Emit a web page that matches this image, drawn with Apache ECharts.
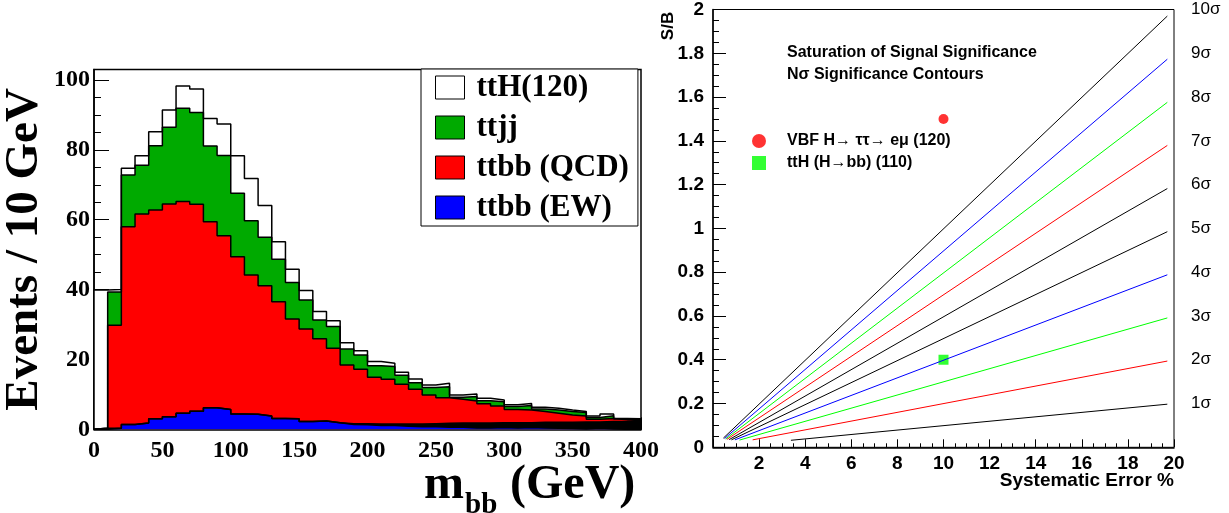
<!DOCTYPE html>
<html>
<head>
<meta charset="utf-8">
<title>ttH m_bb and significance contours</title>
<script src="https://cdn.jsdelivr.net/npm/echarts@6/dist/echarts.min.js"></script>
<style>
  html, body { margin: 0; padding: 0; background: #fff; }
  #main { width: 1229px; height: 513px; }
</style>
</head>
<body>
<div id="main"></div>
<script>
// left panel: m_bb, 10 GeV bins from 0 to 400 GeV (events per bin, per component)
var binWidth = 10
var tthVals  = [39.6, 0.7, 1.9, 2.7, 4.0, 4.9, 6.4, 6.7, 7.9, 9.0, 10.7, 12.1, 9.1, 5.0, 3.8, 2.7, 2.4, 1.7, 1.8, 1.2,
                1.2, 0.9, 0.8, 1.1, 0.7, 1.0, 0.6, 0.7, 0.7, 0.5, 0.5, 0.6, 0.5, 0.5, 0.4, 0.3, 0.4, 0.5, 0.1, 0.0]
var ttjjVals = [0, 9.5, 14.8, 14.0, 18.4, 22.0, 26.7, 26.3, 21.7, 23.0, 18.2, 15.5, 13.9, 12.2, 10.4, 8.3, 5.4, 6.2, 4.6, 4.1,
                3.3, 3.7, 2.6, 1.8, 2.2, 3.2, 0.6, 1.3, 0.9, 1.2, 0.8, 1.3, 0.7, 0.9, 1.0, 1.0, 0.5, 0.8, 0.3, 0.1]
var qcdVals  = [0, 29.5, 56.6, 59.8, 59.8, 60.9, 60.6, 59.2, 53.2, 49.7, 45.0, 39.9, 37.3, 33.4, 28.6, 26.5, 23.5, 21.3, 16.8, 15.6,
                13.4, 12.8, 11.4, 10.0, 8.2, 7.3, 6.8, 6.3, 5.5, 4.8, 3.8, 3.6, 3.1, 2.6, 2.1, 1.7, 0.8, 0.9, 0.4, 0.3]
var darkVals = [0.3, 0, 0, 0, 0, 0, 0, 0, 0, 0, 0, 0, 0, 0, 0, 0, 0, 0, 0.2, 0.3,
                0.4, 0.4, 0.6, 0.8, 0.9, 1.1, 1.2, 1.4, 1.4, 1.4, 1.5, 1.4, 1.6, 1.7, 1.8, 2.0, 1.8, 2.1, 2.3, 2.6]
var ewVals   = [0, 0.3, 1.4, 1.8, 3.0, 3.6, 4.6, 5.2, 6.2, 5.7, 4.4, 4.3, 3.8, 3.1, 3.0, 2.2, 2.4, 1.9, 1.4, 1.3,
                1.1, 1.1, 0.9, 0.7, 0.7, 0.6, 0.6, 0.4, 0.4, 0.5, 0.4, 0.5, 0.4, 0.3, 0.2, 0.1, 0.3, 0.1, 0, 0]
var histNames  = ['ttH(120)', 'ttjj', 'ttbb (QCD)', 'ttbb (EW)']
var histColors = ['#ffffff', '#00aa00', '#ff0000', '#0000ff']

// right panel: N sigma contours, S/B against systematic error (%)
var sigmaLabels   = ['1σ', '2σ', '3σ', '4σ', '5σ', '6σ', '7σ', '8σ', '9σ', '10σ']
var contourColors = ['#000000', '#ff0000', '#00ff00', '#0000ff', '#000000', '#000000', '#ff0000', '#00ff00', '#0000ff', '#000000']
var contourStartX = [3.38, 1.72, 1.15, 0.95, 0.8, 0.7, 0.6, 0.55, 0.5, 0.45]
var contourStartY = [0.032, 0.034, 0.033, 0.034, 0.034, 0.035, 0.036, 0.038, 0.040, 0.042]
var contourEndX = 19.71
var contourEndY = [0.197, 0.394, 0.591, 0.788, 0.985, 1.182, 1.379, 1.576, 1.773, 1.970]
var vbfName = 'VBF H→ ττ→ eμ (120)'
var vbfPoint = [10, 1.5]
var tthName = 'ttH (H→bb) (110)'
var tthPoint = [10, 0.4]

var serif = '"Liberation Serif", "Times New Roman", serif'
var sans = '"Liberation Sans", Arial, sans-serif'

// histogram outline as a step line: x at bin low edges, closed at both ends
function stepData (vals) {
    var pts = [[0, 0]]
    vals.forEach(function (v, i) {
        pts.push([i * binWidth, v])
    })
    var end = vals.length * binWidth
    pts.push([end, vals[vals.length - 1]])
    pts.push([end, 0])
    return pts
}

// cumulative layers, drawn from the biggest down (like a THStack)
var layers = [ewVals, darkVals, qcdVals, ttjjVals, tthVals]
var layerColors = ['#0000ff', '#000000', '#ff0000', '#00aa00', '#ffffff']
var cum = []
layers.forEach(function (vals, k) {
    cum.push(vals.map(function (v, i) {
        return k === 0 ? v : cum[k - 1][i] + v
    }))
})

var series = []
for (var k = layers.length - 1; k >= 0; k--) {
    series.push({
        type: 'line',
        name: 'layer' + k,
        xAxisIndex: 0,
        yAxisIndex: 0,
        step: 'end',
        symbol: 'none',
        data: stepData(cum[k]),
        lineStyle: { color: '#000', width: 1.5 },
        areaStyle: { color: layerColors[k], opacity: 1 },
        silent: true
    })
}
// legend entries only
histNames.forEach(function (n, i) {
    series.push({
        type: 'bar',
        name: n,
        xAxisIndex: 0,
        yAxisIndex: 0,
        data: [],
        itemStyle: { color: histColors[i], borderColor: '#000', borderWidth: 1 }
    })
})
sigmaLabels.forEach(function (s, i) {
    series.push({
        type: 'line',
        name: s,
        xAxisIndex: 1,
        yAxisIndex: 2,
        symbol: 'none',
        data: [[contourStartX[i], contourStartY[i]], [contourEndX, contourEndY[i]]],
        lineStyle: { color: contourColors[i], width: 1 },
        silent: true
    })
})
series.push({
    type: 'scatter',
    name: vbfName,
    xAxisIndex: 1,
    yAxisIndex: 2,
    symbol: 'circle',
    symbolSize: 10,
    itemStyle: { color: '#ff0000' },
    data: [vbfPoint]
})
series.push({
    type: 'scatter',
    name: tthName,
    xAxisIndex: 1,
    yAxisIndex: 2,
    symbol: 'rect',
    symbolSize: 10,
    itemStyle: { color: '#00ff00' },
    data: [tthPoint]
})

function tickStyle (len) {
    return { show: true, inside: true, length: len, lineStyle: { color: '#000', width: 1 } }
}

var option = {
    animation: false,
    backgroundColor: '#fff',
    grid: [
        { left: 94, top: 69.5, width: 547, height: 359.8, show: true, borderColor: '#000', borderWidth: 1.5, backgroundColor: 'transparent' },
        { left: 713, top: 9.3, width: 461, height: 438, show: true, borderColor: '#000', borderWidth: 1, backgroundColor: 'transparent' }
    ],
    legend: [{
        data: histNames,
        orient: 'vertical',
        left: 421,
        top: 69,
        padding: [3, 9, 3, 14],
        itemGap: 9,
        itemWidth: 29,
        itemHeight: 23,
        icon: 'rect',
        selectedMode: false,
        backgroundColor: '#fff',
        borderColor: '#000',
        borderWidth: 1,
        itemStyle: { borderColor: '#000', borderWidth: 1 },
        textStyle: { fontFamily: serif, fontWeight: 'bold', fontSize: 31, color: '#000', padding: [0, 0, 0, 7] }
    }, {
        data: [vbfName, tthName],
        orient: 'vertical',
        left: 752,
        top: 133,
        padding: 0,
        itemGap: 6,
        itemWidth: 14,
        itemHeight: 14,
        selectedMode: false,
        itemStyle: { borderWidth: 0 },
        textStyle: { fontFamily: sans, fontWeight: 'bold', fontSize: 16, color: '#000', padding: [0, 0, 0, 16] }
    }],
    xAxis: [{
        gridIndex: 0,
        type: 'value',
        min: 0,
        max: 400,
        interval: 50,
        axisLine: { lineStyle: { color: '#000', width: 1.5 } },
        axisTick: tickStyle(12),
        minorTick: { show: true, splitNumber: 5, length: 6, lineStyle: { color: '#000', width: 1 } },
        splitLine: { show: false },
        axisLabel: { color: '#000', fontFamily: serif, fontWeight: 'bold', fontSize: 24, margin: 9 }
    }, {
        gridIndex: 1,
        type: 'value',
        min: 0,
        max: 20,
        interval: 2,
        axisLine: { lineStyle: { color: '#000', width: 1.5 } },
        axisTick: tickStyle(8),
        minorTick: { show: true, splitNumber: 4, length: 4, lineStyle: { color: '#000', width: 1 } },
        splitLine: { show: false },
        axisLabel: {
            color: '#000', fontFamily: sans, fontWeight: 'bold', fontSize: 19, margin: 7,
            formatter: function (v) { return v === 0 ? '' : v }
        }
    }],
    yAxis: [{
        gridIndex: 0,
        type: 'value',
        position: 'left',
        min: 0,
        max: 103,
        interval: 20,
        axisLine: { lineStyle: { color: '#000', width: 1.5 } },
        axisTick: tickStyle(15),
        splitLine: { show: false },
        axisLabel: {
            color: '#000', fontFamily: serif, fontWeight: 'bold', fontSize: 24, margin: 4,
            formatter: function (v) { return v % 20 === 0 ? v : '' }
        },
        name: 'Events / 10 GeV',
        nameLocation: 'middle',
        nameRotate: 90,
        nameGap: 46,
        nameTextStyle: { fontFamily: serif, fontWeight: 'bold', fontSize: 47, color: '#000' }
    }, {
        gridIndex: 0,
        type: 'value',
        position: 'left',
        min: 0,
        max: 103,
        interval: 5,
        axisLine: { show: false },
        axisTick: tickStyle(7),
        axisLabel: { show: false },
        splitLine: { show: false }
    }, {
        gridIndex: 1,
        type: 'value',
        position: 'left',
        min: 0,
        max: 2,
        interval: 0.2,
        axisLine: { lineStyle: { color: '#000', width: 1.5 } },
        axisTick: tickStyle(13),
        minorTick: { show: true, splitNumber: 4, length: 6, lineStyle: { color: '#000', width: 1 } },
        splitLine: { show: false },
        axisLabel: { color: '#000', fontFamily: sans, fontWeight: 'bold', fontSize: 19, margin: 9 }
    }, {
        gridIndex: 1,
        type: 'value',
        position: 'right',
        min: 0,
        max: 2,
        interval: 0.2,
        axisLine: { show: false },
        axisTick: { show: false },
        splitLine: { show: false },
        axisLabel: {
            color: '#000', fontFamily: sans, fontSize: 17, margin: 17,
            formatter: function (v) { return sigmaLabels[Math.round(v / 0.2) - 1] || '' }
        }
    }],
    graphic: [
        { type: 'text', x: 424, y: 486, style: { text: 'm', font: 'bold 48px ' + serif, fill: '#000', textAlign: 'left', textVerticalAlign: 'middle' } },
        { type: 'text', x: 465, y: 506, style: { text: 'bb', font: 'bold 29px ' + serif, fill: '#000', textAlign: 'left', textVerticalAlign: 'middle' } },
        { type: 'text', x: 510, y: 486, style: { text: '(GeV)', font: 'bold 48px ' + serif, fill: '#000', textAlign: 'left', textVerticalAlign: 'middle' } },
        { type: 'text', x: 668, y: 26, rotation: Math.PI / 2, style: { text: 'S/B', font: 'bold 17px ' + sans, fill: '#000', textAlign: 'center', textVerticalAlign: 'middle' } },
        { type: 'text', x: 1174, y: 481, style: { text: 'Systematic Error %', font: 'bold 19px ' + sans, fill: '#000', textAlign: 'right', textVerticalAlign: 'middle' } },
        { type: 'text', x: 787, y: 53, style: { text: 'Saturation of Signal Significance', font: 'bold 16px ' + sans, fill: '#000', textAlign: 'left', textVerticalAlign: 'middle' } },
        { type: 'text', x: 787, y: 75, style: { text: 'Nσ Significance Contours', font: 'bold 16px ' + sans, fill: '#000', textAlign: 'left', textVerticalAlign: 'middle' } }
    ],
    series: series
}

var chart = echarts.init(document.getElementById('main'), null, { renderer: 'canvas' })
chart.setOption(option)
</script>
</body>
</html>
